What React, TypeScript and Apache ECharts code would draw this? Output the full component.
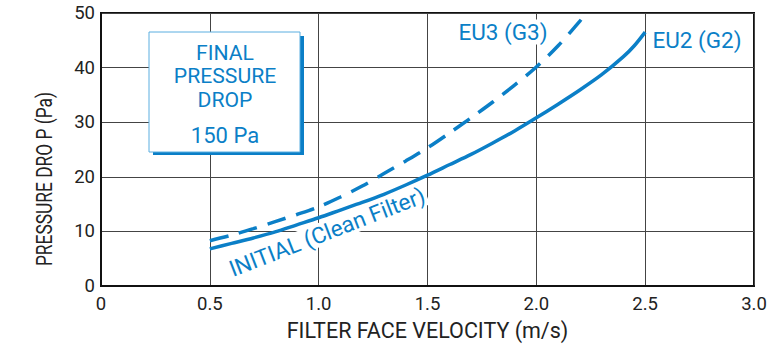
import React, { useEffect, useRef } from "react";
import * as echarts from "echarts";

const eu2Velocity = [0.5, 0.6, 0.7, 0.8, 0.9, 1.0, 1.1, 1.2, 1.3, 1.4, 1.5, 1.6, 1.7, 1.8, 1.9, 2.0, 2.1, 2.2, 2.3, 2.4, 2.45, 2.5];
const eu2Values = [6.8, 7.8, 8.8, 9.9, 11.2, 12.5, 13.9, 15.3, 16.8, 18.5, 20.3, 22.2, 24.1, 26.2, 28.4, 30.8, 33.3, 35.9, 38.7, 42.0, 44.0, 46.5];
const eu3Velocity = [0.5, 0.6, 0.7, 0.8, 0.9, 1.0, 1.1, 1.2, 1.3, 1.4, 1.5, 1.6, 1.7, 1.8, 1.9, 2.0, 2.1, 2.2, 2.23];
const eu3Values = [8.3, 9.3, 10.5, 11.8, 13.1, 14.5, 16.3, 18.3, 20.6, 22.9, 25.3, 28.0, 30.8, 33.7, 36.8, 40.1, 44.0, 48.5, 50.0];
const xTicks = ["0", "0.5", "1.0", "1.5", "2.0", "2.5", "3.0"];
const boxLines = ["FINAL", "PRESSURE", "DROP"];

const BLUE = "#0b7fc7";
const FONT = "Roboto, 'Noto Sans', sans-serif";

export default function App() {
  const ref = useRef<HTMLDivElement>(null);
  useEffect(() => {
    if (!ref.current) return;
    document.body.style.margin = "0";
    const chart = echarts.init(ref.current, undefined, { renderer: "svg" });
    chart.setOption({
      animation: false,
      textStyle: { fontFamily: FONT },
      grid: {
        left: 101,
        right: 16,
        top: 13,
        bottom: 61,
        show: true,
        borderColor: "#111",
        borderWidth: 2,
        backgroundColor: "transparent",
      },
      xAxis: {
        type: "value",
        min: 0,
        max: 3,
        interval: 0.5,
        name: "FILTER FACE VELOCITY (m/s)",
        nameLocation: "middle",
        nameGap: 33,
        nameTextStyle: { fontSize: 21.5, color: "#222", fontFamily: FONT },
        axisLine: { show: true, lineStyle: { color: "#111", width: 2 } },
        axisTick: { show: false },
        splitLine: { show: true, lineStyle: { color: "#444", width: 1 } },
        axisLabel: {
          fontSize: 18.5,
          color: "#222",
          margin: 8,
          fontFamily: FONT,
          formatter: (v: number) => xTicks[Math.round(v * 2)] ?? String(v),
        },
      },
      yAxis: {
        type: "value",
        min: 0,
        max: 50,
        interval: 10,
        axisLine: { show: true, lineStyle: { color: "#111", width: 2 } },
        axisTick: { show: false },
        splitLine: { show: true, lineStyle: { color: "#444", width: 1 } },
        axisLabel: { fontSize: 18.5, color: "#222", margin: 6, fontFamily: FONT },
      },
      series: [
        {
          type: "line",
          name: "EU2 (G2)",
          data: eu2Velocity.map((x, i) => [x, eu2Values[i]]),
          smooth: 0.3,
          symbol: "none",
          lineStyle: { color: BLUE, width: 3.5 },
          z: 3,
        },
        {
          type: "line",
          name: "EU3 (G3)",
          data: eu3Velocity.map((x, i) => [x, eu3Values[i]]),
          smooth: 0.3,
          symbol: "none",
          lineStyle: { color: BLUE, width: 3.5, type: [19, 11] },
          z: 3,
        },
      ],
      graphic: [
        {
          type: "text",
          x: 45,
          y: 179,
          rotation: Math.PI / 2,
          scaleX: 0.79,
          style: {
            text: "PRESSURE DRO P (Pa)",
            fill: "#222",
            font: `22px ${FONT}`,
            align: "center",
            verticalAlign: "middle",
          },
        },
        {
          type: "rect",
          shape: { x: 153, y: 36, width: 151, height: 119 },
          style: { fill: BLUE },
          z: 10,
        },
        {
          type: "rect",
          shape: { x: 149, y: 32, width: 151, height: 120 },
          style: { fill: "#fff", stroke: "#5aaee0", lineWidth: 1 },
          z: 11,
        },
        ...boxLines.map((t, i) => ({
          type: "text",
          x: 225,
          y: 53 + i * 23.5,
          z: 12,
          scaleX: 1.06,
          style: {
            text: t,
            fill: BLUE,
            font: `20px ${FONT}`,
            align: "center",
            verticalAlign: "middle",
          },
        })),
        {
          type: "text",
          x: 225,
          y: 135,
          z: 12,
          style: {
            text: "150 Pa",
            fill: BLUE,
            font: `22px ${FONT}`,
            align: "center",
            verticalAlign: "middle",
          },
        },
        {
          type: "text",
          x: 503,
          y: 32,
          z: 12,
          style: {
            text: "EU3 (G3)",
            fill: BLUE,
            font: `22.5px ${FONT}`,
            align: "center",
            verticalAlign: "middle",
            backgroundColor: "#fff",
            padding: [1, 2],
          },
        },
        {
          type: "text",
          x: 697,
          y: 40,
          z: 12,
          style: {
            text: "EU2 (G2)",
            fill: BLUE,
            font: `22.5px ${FONT}`,
            align: "center",
            verticalAlign: "middle",
            backgroundColor: "#fff",
            padding: [1, 2],
          },
        },
        {
          type: "text",
          x: 327,
          y: 232,
          rotation: 0.37,
          z: 12,
          style: {
            text: "INITIAL (Clean Filter)",
            fill: BLUE,
            font: `22.5px ${FONT}`,
            align: "center",
            verticalAlign: "middle",
            backgroundColor: "#fff",
            padding: [0, 2],
          },
        },
      ],
    });
    return () => chart.dispose();
  }, []);
  return <div ref={ref} style={{ width: 770, height: 347 }} />;
}
